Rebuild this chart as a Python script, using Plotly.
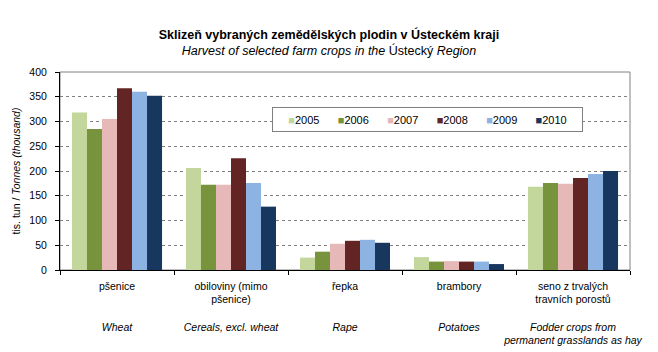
import plotly.graph_objects as go

years = ["2005", "2006", "2007", "2008", "2009", "2010"]
colors = ["#c3d69b", "#77933c", "#e6b9b8", "#632523", "#8db3e2", "#17375e"]

categories = ["pšenice", "obiloviny", "řepka", "brambory", "seno"]
czech_labels = [["pšenice", ""], ["obiloviny (mimo", "pšenice)"], ["řepka", ""],
                ["brambory", ""], ["seno z trvalých", "travních porostů"]]
english_labels = [["Wheat", ""], ["Cereals, excl. wheat", ""], ["Rape", ""],
                  ["Potatoes", ""], ["Fodder crops from", "permanent grasslands as hay"]]

# values by year (thousand tonnes), order of categories
v2005 = [318, 206, 25, 26, 168]
v2006 = [285, 172, 37, 17, 176]
v2007 = [305, 172, 53, 18, 174]
v2008 = [367, 226, 59, 17, 186]
v2009 = [360, 176, 61, 17, 194]
v2010 = [352, 128, 55, 12, 200]
series = [v2005, v2006, v2007, v2008, v2009, v2010]

y_ticks = [0, 50, 100, 150, 200, 250, 300, 350, 400]

NB = "\u00a0"
FONT = "Liberation Sans, Arial, sans-serif"

fig = go.Figure()
for yr, col, vals in zip(years, colors, series):
    fig.add_trace(go.Bar(name=yr, x=categories, y=vals, marker=dict(color=col, line=dict(width=0)),
                         showlegend=False))

ticktext = []
for cz, en in zip(czech_labels, english_labels):
    lines = [cz[0], cz[1] or NB, NB, "<i>" + en[0] + "</i>", ("<i>" + en[1] + "</i>") if en[1] else NB]
    ticktext.append("<br>".join(lines))

# manual legend text
parts = []
for yr, col in zip(years, colors):
    parts.append('<span style="color:%s">■</span>%s' % (col, yr))
legend_text = (NB * 6).join(parts)

fig.update_layout(
    width=658, height=352,
    margin=dict(l=60, r=28, t=72, b=82),
    paper_bgcolor="white", plot_bgcolor="white",
    font=dict(family=FONT, size=10.5, color="#000000"),
    barmode="group", bargap=0.21, bargroupgap=0,
    title=dict(
        text="<b>Sklizeň vybraných zemědělských plodin v Ústeckém kraji</b><br>"
             "<i>Harvest of selected farm crops in the </i>Ústecký<i> Region</i>",
        x=0.5, xanchor="center", y=0.89, yanchor="middle",
        font=dict(family=FONT, size=12.5, color="#000000"),
    ),
    xaxis=dict(
        tickmode="array", tickvals=categories, ticktext=ticktext,
        tickson="boundaries", ticks="outside", ticklen=4, tickcolor="#000000",
        showline=True, linecolor="#000000", linewidth=1,
        showgrid=False, zeroline=False, automargin=False,
        tickfont=dict(family=FONT, size=10.5, color="#000000"),
        tickangle=0, ticklabelstandoff=6,
    ),
    yaxis=dict(
        range=[0, 400], tickmode="array", tickvals=y_ticks,
        ticks="outside", ticklen=4, tickcolor="#000000",
        showline=True, linecolor="#000000", linewidth=1,
        showgrid=True, gridcolor="#808080", gridwidth=1, griddash="3px,3px",
        zeroline=False, automargin=False,
        tickfont=dict(family=FONT, size=10.5, color="#000000"),
        ticklabelstandoff=6,
        title=dict(text="tis. tun / <i>Tonnes (thousand)</i>",
                   font=dict(family=FONT, size=10.5, color="#000000"), standoff=6),
    ),
    shapes=[dict(type="rect", xref="paper", yref="paper", x0=0, x1=1, y0=0, y1=1,
                 line=dict(color="#808080", width=1), layer="below")],
    annotations=[dict(
        text=legend_text, xref="paper", yref="paper", x=0.645, y=0.7586,
        xanchor="center", yanchor="middle", showarrow=False,
        width=305, height=19, borderpad=2, borderwidth=1, bordercolor="#808080",
        bgcolor="#ffffff", align="center",
        font=dict(family=FONT, size=11, color="#000000"),
    )],
)

fig.write_html("out.html")
